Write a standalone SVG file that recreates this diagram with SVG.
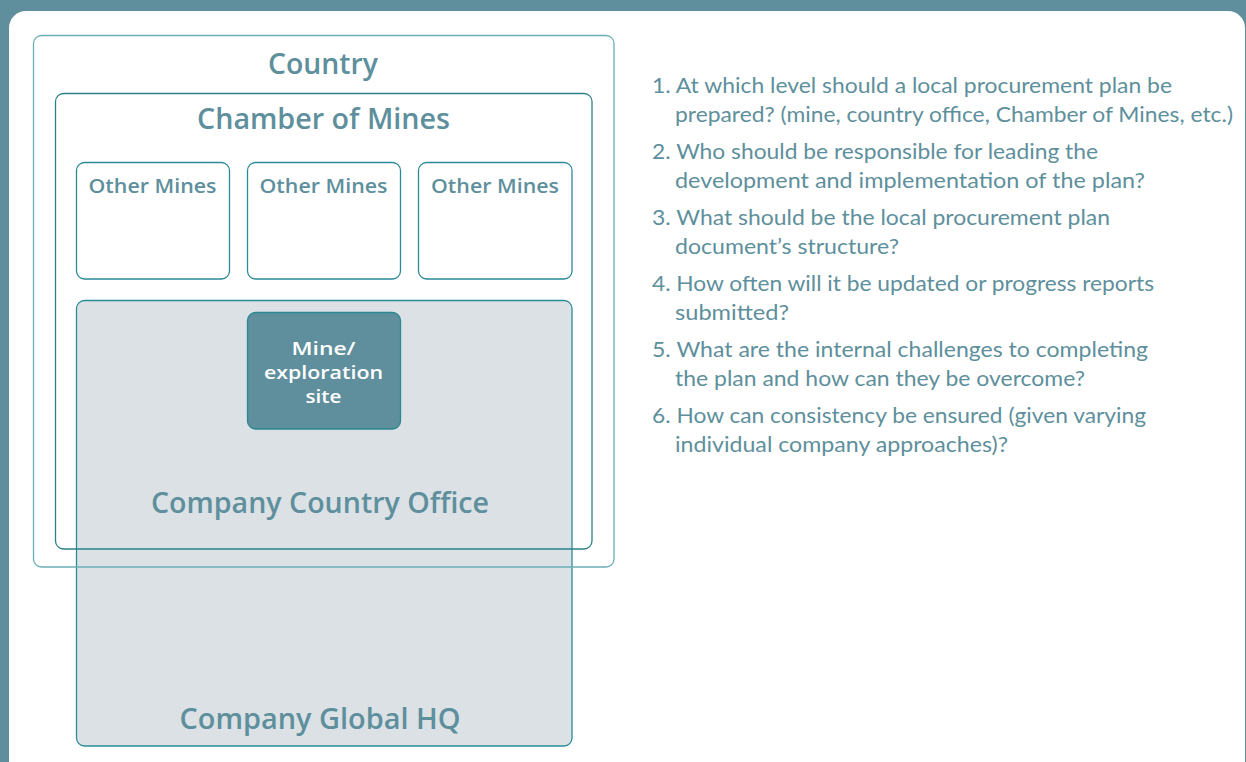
<svg xmlns="http://www.w3.org/2000/svg" width="1246" height="762" viewBox="0 0 1246 762">
<style>
.lbl{font-family:"Open Sans","Noto Sans",sans-serif;font-weight:600;fill:#5e8f9c;text-anchor:middle}
.big{font-size:28px}
.sm{font-size:20px}
.mn{font-size:17.5px;fill:#ffffff}
.q{font-family:"Lato","Open Sans",sans-serif;font-size:22px;fill:#5e8f9c}
.box{fill:#ffffff;stroke:#2a8a96;stroke-width:1.3}
</style>
<rect x="0" y="0" width="1246" height="762" fill="#5f8f9d"/>
<rect x="9" y="11" width="1236" height="800" rx="17" fill="#ffffff"/>
<g id="global-hq">
<rect x="76.5" y="300.5" width="495.5" height="445.5" rx="8" fill="#dce1e5" stroke="#2a8c97" stroke-width="1.3"/>
<text class="lbl big" x="320" y="729" textLength="281" lengthAdjust="spacingAndGlyphs">Company Global HQ</text>
</g>
<g id="country-office">
<text class="lbl big" x="320" y="513" textLength="338" lengthAdjust="spacingAndGlyphs">Company Country Office</text>
</g>
<g id="country">
<rect x="33.5" y="35.5" width="580.5" height="531.5" rx="8" fill="none" stroke="#6aaeb7" stroke-width="1.3"/>
<text class="lbl big" x="323" y="74" textLength="110" lengthAdjust="spacingAndGlyphs">Country</text>
</g>
<g id="chamber">
<rect x="55.5" y="93.5" width="536.5" height="455.5" rx="8" fill="none" stroke="#2d8088" stroke-width="1.3"/>
<text class="lbl big" x="323.5" y="129" textLength="253" lengthAdjust="spacingAndGlyphs">Chamber of Mines</text>
</g>
<g id="other-mines-1">
<rect class="box" x="76.5" y="162.5" width="153" height="116.5" rx="8"/>
<text class="lbl sm" x="152.5" y="193" textLength="128" lengthAdjust="spacingAndGlyphs">Other Mines</text>
</g>
<g id="other-mines-2">
<rect class="box" x="247.5" y="162.5" width="153" height="116.5" rx="8"/>
<text class="lbl sm" x="323.5" y="193" textLength="128" lengthAdjust="spacingAndGlyphs">Other Mines</text>
</g>
<g id="other-mines-3">
<rect class="box" x="418.5" y="162.5" width="153.5" height="116.5" rx="8"/>
<text class="lbl sm" x="495" y="193" textLength="128" lengthAdjust="spacingAndGlyphs">Other Mines</text>
</g>
<g id="mine-site">
<rect x="247.5" y="312.5" width="153" height="116.5" rx="8" fill="#5f8f9d" stroke="#2a8890" stroke-width="1.3"/>
<text class="lbl mn" x="323.5" y="355" textLength="64" lengthAdjust="spacingAndGlyphs">Mine/</text>
<text class="lbl mn" x="323.5" y="379" textLength="119" lengthAdjust="spacingAndGlyphs">exploration</text>
<text class="lbl mn" x="323.5" y="403" textLength="36" lengthAdjust="spacingAndGlyphs">site</text>
</g>
<g id="connectors"></g>
<g id="questions">
<text class="q" x="652" y="93" textLength="520" lengthAdjust="spacingAndGlyphs">1. At which level should a local procurement plan be</text>
<text class="q" x="675" y="122" textLength="558" lengthAdjust="spacingAndGlyphs">prepared? (mine, country office, Chamber of Mines, etc.)</text>
<text class="q" x="652" y="159" textLength="446" lengthAdjust="spacingAndGlyphs">2. Who should be responsible for leading the</text>
<text class="q" x="675" y="188" textLength="470" lengthAdjust="spacingAndGlyphs">development and implementation of the plan?</text>
<text class="q" x="652" y="225" textLength="458" lengthAdjust="spacingAndGlyphs">3. What should be the local procurement plan</text>
<text class="q" x="675" y="254" textLength="224" lengthAdjust="spacingAndGlyphs">document’s structure?</text>
<text class="q" x="652" y="291" textLength="502" lengthAdjust="spacingAndGlyphs">4. How often will it be updated or progress reports</text>
<text class="q" x="675" y="320" textLength="114" lengthAdjust="spacingAndGlyphs">submitted?</text>
<text class="q" x="652" y="357" textLength="496" lengthAdjust="spacingAndGlyphs">5. What are the internal challenges to completing</text>
<text class="q" x="675" y="386" textLength="410" lengthAdjust="spacingAndGlyphs">the plan and how can they be overcome?</text>
<text class="q" x="652" y="423" textLength="494" lengthAdjust="spacingAndGlyphs">6. How can consistency be ensured (given varying</text>
<text class="q" x="675" y="452" textLength="333" lengthAdjust="spacingAndGlyphs">individual company approaches)?</text>
</g>
</svg>
